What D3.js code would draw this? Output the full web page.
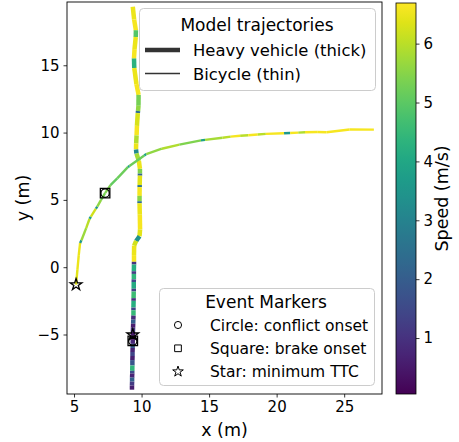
<!DOCTYPE html>
<html lang="en">
<head>
<meta charset="utf-8">
<title>Trajectories</title>
<style>
body { margin: 0; background: #fff; }
svg { font-family: "DejaVu Sans", sans-serif; }
.tick text { font-size: 15px; fill: #000; }
.legend-item { font-size: 16.4px; }
.legend-item2 { font-size: 15.5px; }
.legend-title { font-size: 17px; }
</style>
</head>
<body>
<div id="chart"></div>
<script src="https://d3js.org/d3.v7.min.js"></script>
<script>
// heavy vehicle track: [x, y, speed]
var heavy = [
	[9.35, 19.35, 6.5], [9.45, 18.4, 6.6], [9.58, 17.6, 4.9], [9.57, 17.1, 6.5],
	[9.48, 16.2, 6.6], [9.44, 15.5, 4.3], [9.46, 14.8, 6.5], [9.62, 13.6, 6.6],
	[9.78, 12.8, 5.3], [9.77, 12.0, 5.6], [9.74, 11.6, 2.4], [9.72, 11.45, 6.3],
	[9.66, 10.5, 6.6], [9.63, 9.8, 5.9], [9.60, 9.2, 6.5], [9.59, 8.75, 3.2],
	[9.62, 8.45, 5.8], [9.80, 7.9, 6.5], [9.88, 7.3, 5.4], [9.88, 6.95, 2.2],
	[9.88, 6.8, 6.4], [9.86, 6.1, 2.6], [9.86, 5.95, 6.6], [9.85, 5.3, 5.5],
	[9.85, 4.9, 2.5], [9.85, 4.75, 6.5], [9.87, 3.9, 6.6], [9.89, 2.8, 6.4],
	[9.85, 2.3, 3.4], [9.60, 1.95, 6.2], [9.45, 1.6, 6.5], [9.44, 0.9, 6.6],
	[9.44, 0.4, 1.0], [9.44, 0.2, 4.2], [9.43, -0.3, 1.2], [9.43, -0.5, 4.4],
	[9.43, -0.9, 1.5], [9.42, -1.1, 4.1], [9.42, -1.6, 1.3], [9.42, -1.8, 4.6],
	[9.41, -2.3, 1.0], [9.41, -2.5, 4.2], [9.40, -3.0, 1.4], [9.40, -3.2, 4.5],
	[9.40, -3.6, 0.9], [9.39, -3.9, 2.0], [9.38, -4.2, 0.6], [9.37, -4.5, 1.1],
	[9.36, -4.8, 0.5], [9.35, -5.1, 0.4], [9.35, -5.4, 0.8], [9.34, -5.7, 1.9],
	[9.34, -6.0, 0.7], [9.33, -6.3, 1.4], [9.33, -6.6, 0.6], [9.32, -6.9, 1.8],
	[9.32, -7.3, 4.4], [9.31, -7.7, 1.6], [9.31, -7.9, 0.7], [9.30, -8.2, 2.1],
	[9.30, -8.5, 1.2], [9.29, -8.8, 0.6], [9.29, -9.1, 0.6]
];

// bicycle track: [x, y, speed]
var bicycle = [
	[5.15, -1.3, 6.4], [5.25, -0.2, 6.5], [5.35, 0.9, 6.5], [5.45, 1.8, 3.6],
	[5.55, 2.0, 5.7], [5.9, 2.9, 6.0], [6.15, 3.6, 3.8], [6.25, 3.75, 6.2],
	[6.62, 4.35, 3.5], [6.72, 4.5, 5.6], [7.0, 5.0, 5.3], [7.3, 5.5, 5.4],
	[7.7, 6.1, 5.1], [8.2, 6.6, 5.2], [9.0, 7.45, 3.8], [9.1, 7.52, 5.2],
	[10.2, 8.3, 3.9], [10.35, 8.4, 5.6], [11.5, 8.8, 5.9], [12.8, 9.1, 5.4],
	[14.4, 9.42, 3.9], [14.7, 9.46, 5.8], [16.0, 9.62, 6.0], [16.6, 9.7, 6.6],
	[17.3, 9.76, 6.0], [17.9, 9.8, 6.6], [18.6, 9.86, 6.0], [19.2, 9.9, 6.6],
	[20.55, 9.95, 3.6], [21.0, 9.97, 6.6], [21.6, 10.0, 5.9], [22.1, 10.02, 6.6],
	[23.0, 10.04, 6.6], [23.7, 10.02, 6.6], [25.4, 10.23, 6.6], [27.2, 10.22, 6.6]
];

// event markers: [x, y]
var conflictOnset = [[7.3, 5.5], [9.35, -5.48]];
var brakeOnset = [[7.3, 5.5], [9.35, -5.48]];
var minTTC = [[5.15, -1.3], [9.35, -5.03]];

var xTicks = [5, 10, 15, 20, 25];
var yTicks = [-5, 0, 5, 10, 15];
var cbTicks = [1, 2, 3, 4, 5, 6];
var speedRange = [0.05, 6.69];

var width = 459, height = 442;
var plot = {left: 67, right: 382, top: 2, bottom: 394};

var svg = d3.select("#chart").append("svg")
	.attr("width", width)
	.attr("height", height);

var x = d3.scaleLinear().domain([4.48, 27.8]).range([plot.left, plot.right]);
var y = d3.scaleLinear().domain([-9.42, 19.7]).range([plot.bottom, plot.top]);
var color = d3.scaleSequential(d3.interpolateViridis).domain(speedRange);

svg.append("clipPath").attr("id", "clip")
	.append("rect")
	.attr("x", plot.left).attr("y", plot.top)
	.attr("width", plot.right - plot.left).attr("height", plot.bottom - plot.top);

var g = svg.append("g").attr("clip-path", "url(#clip)");

// draw a track as many coloured segments
function drawTrack(pts, w) {
	for (var i = 0; i < pts.length - 1; i++) {
		g.append("line")
			.attr("x1", x(pts[i][0])).attr("y1", y(pts[i][1]))
			.attr("x2", x(pts[i + 1][0])).attr("y2", y(pts[i + 1][1]))
			.attr("stroke", color(pts[i][2]))
			.attr("stroke-width", w)
			.attr("stroke-linecap", "butt");
	}
}
drawTrack(heavy, 4.5);
drawTrack(bicycle, 2.4);

var star = d3.symbol().type(d3.symbolStar);
var circle = d3.symbol().type(d3.symbolCircle);
var square = d3.symbol().type(d3.symbolSquare);

function drawMarkers(pts, sym, size) {
	pts.forEach(function(p) {
		g.append("path")
			.attr("d", sym.size(size)())
			.attr("transform", "translate(" + x(p[0]) + "," + y(p[1]) + ")")
			.attr("fill", "none")
			.attr("stroke", "#000")
			.attr("stroke-width", 1.3);
	});
}
drawMarkers(conflictOnset, circle, 55);
drawMarkers(brakeOnset, square, 90);
drawMarkers(minTTC, star, 42);

// axes
var xAxis = svg.append("g")
	.attr("transform", "translate(0," + plot.bottom + ")")
	.call(d3.axisBottom(x).tickValues(xTicks).tickSize(3.5).tickPadding(4));
var yAxis = svg.append("g")
	.attr("transform", "translate(" + plot.left + ",0)")
	.call(d3.axisLeft(y).tickValues(yTicks).tickSize(3.5).tickPadding(4)
		.tickFormat(function(d) { return d < 0 ? "\u2212" + Math.abs(d) : d; }));
[xAxis, yAxis].forEach(function(a) {
	a.select(".domain").remove();
	a.selectAll(".tick line").attr("stroke", "#000").attr("stroke-width", 0.8);
	a.selectAll(".tick text").attr("font-family", "DejaVu Sans").attr("font-size", 15);
});

svg.append("rect")
	.attr("x", plot.left).attr("y", plot.top)
	.attr("width", plot.right - plot.left).attr("height", plot.bottom - plot.top)
	.attr("fill", "none").attr("stroke", "#000").attr("stroke-width", 0.9);

svg.append("text")
	.attr("x", (plot.left + plot.right) / 2).attr("y", 436)
	.attr("text-anchor", "middle").attr("font-size", 17.5)
	.text("x (m)");
svg.append("text")
	.attr("transform", "translate(29," + ((plot.top + plot.bottom) / 2) + ") rotate(-90)")
	.attr("text-anchor", "middle").attr("font-size", 17.5)
	.text("y (m)");

// legend: model trajectories
var leg1 = svg.append("g");
leg1.append("rect")
	.attr("x", 139.5).attr("y", 8.5).attr("width", 236).attr("height", 82)
	.attr("rx", 4).attr("fill", "#fff").attr("fill-opacity", 0.8)
	.attr("stroke", "#ccc");
leg1.append("text").attr("class", "legend-title")
	.attr("x", 257).attr("y", 31).attr("text-anchor", "middle")
	.text("Model trajectories");
var leg1Items = [["Heavy vehicle (thick)", 4.5], ["Bicycle (thin)", 1.6]];
leg1Items.forEach(function(d, i) {
	var cy = 50 + i * 23.5;
	leg1.append("line").attr("x1", 145).attr("x2", 180).attr("y1", cy).attr("y2", cy)
		.attr("stroke", "#333").attr("stroke-width", d[1]);
	leg1.append("text").attr("class", "legend-item")
		.attr("x", 193).attr("y", cy + 6).text(d[0]);
});

// legend: event markers
var leg2 = svg.append("g");
leg2.append("rect")
	.attr("x", 159.5).attr("y", 288.5).attr("width", 215).attr("height", 97)
	.attr("rx", 4).attr("fill", "#fff").attr("fill-opacity", 0.8)
	.attr("stroke", "#ccc");
leg2.append("text").attr("class", "legend-title")
	.attr("x", 266).attr("y", 308).attr("text-anchor", "middle")
	.text("Event Markers");
var leg2Items = [["Circle: conflict onset", circle, 40], ["Square: brake onset", square, 45], ["Star: minimum TTC", star, 35]];
leg2Items.forEach(function(d, i) {
	var cy = 325 + i * 23.3;
	leg2.append("path").attr("d", d[1].size(d[2])())
		.attr("transform", "translate(178," + cy + ")")
		.attr("fill", "none").attr("stroke", "#000").attr("stroke-width", 1);
	leg2.append("text").attr("class", "legend-item2")
		.attr("x", 210).attr("y", cy + 5.5).text(d[0]);
});

// colorbar
var cb = {left: 396, right: 416, top: 3, bottom: 394};
var grad = svg.append("defs").append("linearGradient")
	.attr("id", "viridis").attr("x1", 0).attr("y1", 1).attr("x2", 0).attr("y2", 0);
d3.range(0, 1.0001, 0.05).forEach(function(t) {
	grad.append("stop").attr("offset", t).attr("stop-color", d3.interpolateViridis(t));
});
svg.append("rect")
	.attr("x", cb.left).attr("y", cb.top)
	.attr("width", cb.right - cb.left).attr("height", cb.bottom - cb.top)
	.attr("fill", "url(#viridis)").attr("stroke", "#000").attr("stroke-width", 0.8);
var cbScale = d3.scaleLinear().domain(speedRange).range([cb.bottom, cb.top]);
var cbAxis = svg.append("g")
	.attr("transform", "translate(" + cb.right + ",0)")
	.call(d3.axisRight(cbScale).tickValues(cbTicks).tickFormat(d3.format("d"))
		.tickSize(3.5).tickPadding(4));
cbAxis.select(".domain").remove();
cbAxis.selectAll(".tick line").attr("stroke", "#000").attr("stroke-width", 0.8);
cbAxis.selectAll(".tick text").attr("font-family", "DejaVu Sans").attr("font-size", 15);

svg.append("text")
	.attr("transform", "translate(448," + ((cb.top + cb.bottom) / 2) + ") rotate(-90)")
	.attr("text-anchor", "middle").attr("font-size", 17.5)
	.text("Speed (m/s)");
</script>
</body>
</html>
